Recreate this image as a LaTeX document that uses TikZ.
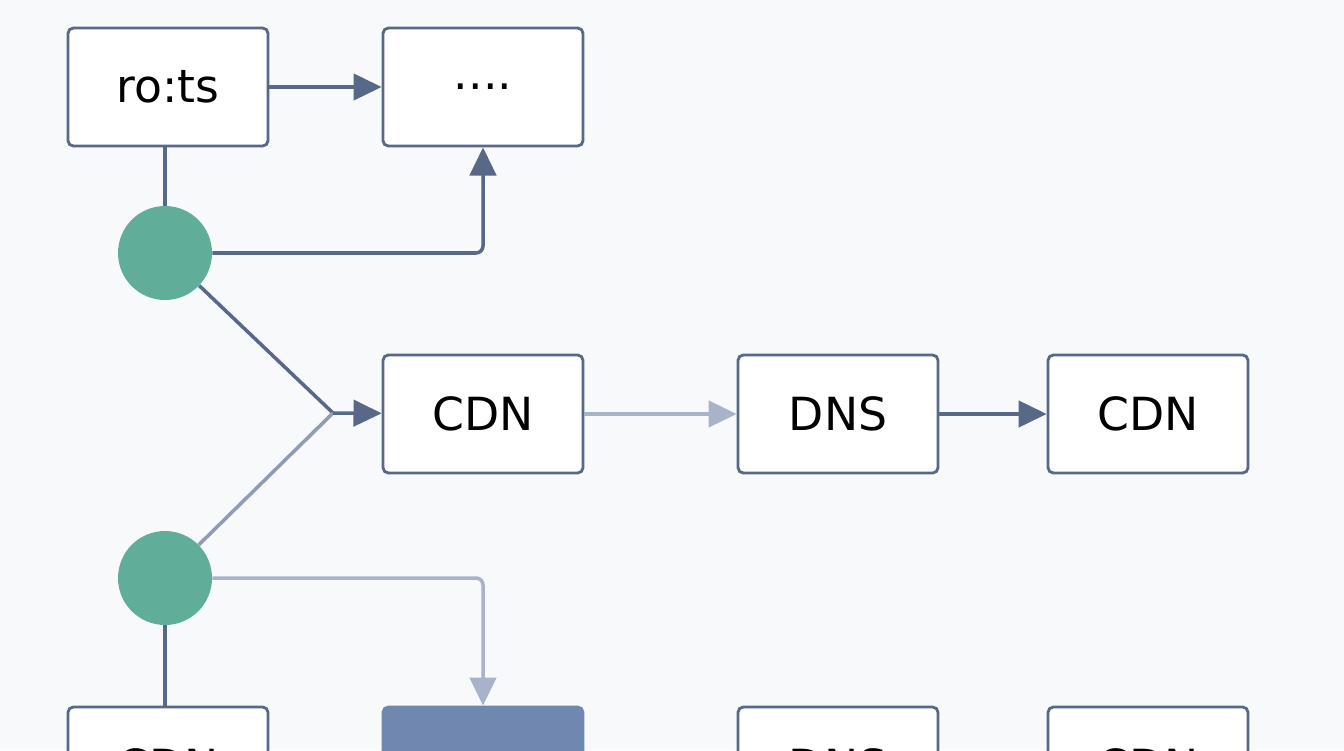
\documentclass[tikz,border=0pt]{standalone}
\usepackage{fontspec}
\setmainfont{DejaVu Sans}
\usetikzlibrary{arrows.meta, positioning}
\definecolor{linedark}{RGB}{88, 104, 136}
\definecolor{linelight}{RGB}{168, 178, 200}
\definecolor{dotteal}{RGB}{96, 174, 154}
\definecolor{boxfill}{RGB}{112, 136, 176}
\definecolor{bgpaper}{RGB}{248, 249, 250}

\begin{document}
\begin{tikzpicture}[
    x=0.02cm, y=-0.02cm,
    nodebox/.style={draw=linedark, rounded corners=3pt, line width=1.6pt, fill=white,
                 minimum width=4cm, minimum height=2.36cm, font=\fontsize{26}{30}\selectfont},
    hub/.style={circle, fill=dotteal, minimum size=1.88cm, inner sep=0pt},
    arrow/.style={-{Triangle[length=16pt, width=15pt]}, line width=2pt},
    link/.style={line width=2pt},
  ]
    \useasboundingbox (0,0) rectangle (1344,750);
    \fill[bgpaper] (0,0) rectangle (1344,750);
    \clip (0,0) rectangle (1344,750);

    % Top row
    \node[nodebox] (roots) at (168,87) {ro:ts};
    \node[nodebox] (more) at (483,87) {\raisebox{-2pt}{....}};

    % Middle row
    \node[nodebox] (cdna) at (483,414) {CDN};
    \node[nodebox] (dnsa) at (838,414) {DNS};
    \node[nodebox] (cdnb) at (1148,414) {CDN};

    % Hubs
    \node[hub] (hubA) at (165,253) {};
    \node[hub] (hubB) at (165,578) {};
    \coordinate (join) at (333,413);

    % Bottom row
    \node[nodebox] (cdnc) at (168,766) {CDN};
    \node[nodebox, fill=boxfill, draw=boxfill] (store) at (483,766) {};
    \node[nodebox] (dnsb) at (838,766) {DNS};
    \node[nodebox] (cdnd) at (1148,766) {CDN};

    % Arrows
    \draw[link, linedark] (roots.south -| hubA) -- (hubA);
    \draw[arrow, linedark] (roots) -- (more);
    \draw[arrow, linedark, rounded corners=4pt] (hubA.east) -| (more.south);
    \draw[link, linedark] (hubA) -- (join);
    \draw[link, linelight!70!linedark] (hubB) -- (join);
    \draw[arrow, linedark] (join) -- (cdna);
    \draw[arrow, linelight] (cdna) -- (dnsa);
    \draw[arrow, linedark] (dnsa) -- (cdnb);
    \draw[arrow, linelight, rounded corners=4pt] (hubB.east) -| (store.north);
    \draw[link, linedark] (hubB) -- (cdnc.north -| hubB);
    \draw[arrow, linelight] (cdnc) -- (store);
    \draw[arrow, linelight] (dnsb) -- (store);
    \draw[arrow, linelight] (dnsb) -- (cdnd);
  \end{tikzpicture}
\end{document}
